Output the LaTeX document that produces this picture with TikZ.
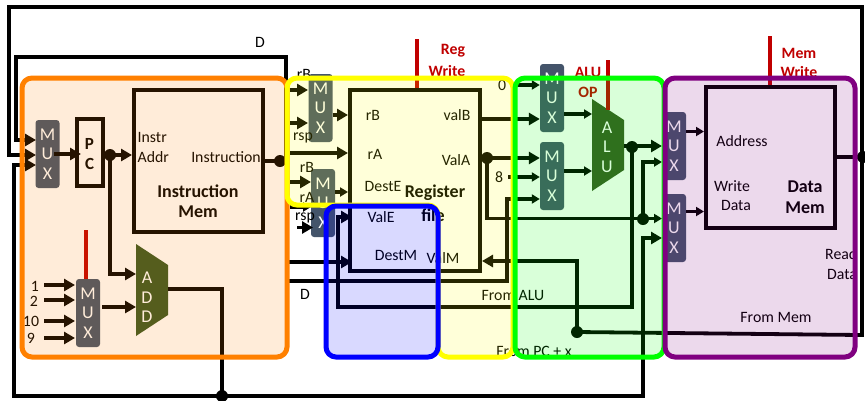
\documentclass[tikz,border=0pt]{standalone}
\usepackage{fontspec}
\setmainfont{Carlito}
\usetikzlibrary{arrows.meta}
\definecolor{muxblue}{HTML}{44546A}
\definecolor{adgreen}{HTML}{385723}
\definecolor{ctlred}{HTML}{C00000}
\definecolor{ovorange}{HTML}{FF8000}
\definecolor{ovyellow}{HTML}{FFFF00}
\definecolor{ovgreen}{HTML}{00FF00}
\definecolor{ovblue}{HTML}{0000FF}
\definecolor{ovpurple}{HTML}{800080}
\tikzset{
  wire/.style={draw=black,line width=3.8pt},
  arr/.style={wire,-{Triangle[length=11pt,width=12pt]}},
  arrs/.style={wire,-{Triangle[length=8pt,width=9pt]}},
  ctl/.style={draw=ctlred,line width=4pt},
  blockbox/.style={draw=black,line width=4pt,fill=none,inner sep=0pt},
  mux/.style={rectangle,rounded corners=3pt,fill=muxblue,text=white,inner sep=0pt,
    minimum width=24pt,minimum height=68pt,align=center,font=\fontsize{18}{19.5}\selectfont},
  junction/.style={circle,fill=black,inner sep=0pt,minimum size=12pt},
  txt/.style={inner sep=0pt,text=black,font=\fontsize{15.8}{18}\selectfont},
  txtb/.style={inner sep=0pt,text=black,font=\fontsize{18}{21}\selectfont\bfseries},
  redtxt/.style={inner sep=0pt,text=ctlred,font=\fontsize{15.8}{18}\selectfont\bfseries},
  shapetxt/.style={inner sep=0pt,text=white,align=center,font=\fontsize{18}{19.5}\selectfont},
  ovl/.style={line width=5pt,rounded corners=10pt,fill opacity=.15,draw opacity=1}
}
\begin{document}
\begin{tikzpicture}[x=1pt,y=-1pt]
\useasboundingbox (0,0) rectangle (865,400);
\fill[white] (0,0) rectangle (865,400);
% ---- blocks
\node[mux] (muxpc) at (47.5,154) {M\\U\\X};
\node[blockbox,minimum width=26pt,minimum height=67pt] (pc) at (90,152.5) {};
\node[inner sep=0pt,align=center,text=black,font=\fontsize{17}{20}\selectfont\bfseries] (pclab) at (89.5,154) {P\\C};
\node[blockbox,minimum width=129pt,minimum height=142pt] (imem) at (198.5,161) {};
\node[mux] (muxadd) at (88,313) {M\\U\\X};
\fill[adgreen] (136,244) -- (168,265) -- (168,315) -- (136,336) -- cycle;
\node[shapetxt] (addlab) at (147,297.5) {A\\D\\D};
\node[mux] (muxb) at (320.5,108) {M\\U\\X};
\node[mux] (muxc) at (323,203) {M\\U\\X};
\node[blockbox,minimum width=130pt,minimum height=181pt] (reg) at (415,180.5) {};
\node[mux] (muxd) at (552,98) {M\\U\\X};
\node[mux] (muxe) at (552,176) {M\\U\\X};
\fill[adgreen] (592,99) -- (624,120) -- (624,170) -- (592,191) -- cycle;
\node[shapetxt] (alulab) at (607,147) {A\\L\\U};
\node[mux] (muxf) at (674,146) {M\\U\\X};
\node[mux] (muxg) at (674,228) {M\\U\\X};
\node[blockbox,minimum width=129pt,minimum height=141pt] (dmem) at (770.5,157.5) {};
% ---- junctions
\node[junction] (jpc) at (110,155) {};
\node[junction] (jinst) at (280,161) {};
\node[junction] (jvala) at (487,158) {};
\node[junction] (jalu) at (632,147) {};
\node[junction] (jfwd) at (643,219) {};
\node[junction] (jmem) at (577,332) {};
\node[junction] (jadd) at (222,396) {};
\node[junction] (jout) at (863,157) {};
% ---- free ends
\coordinate (c1) at (44,285); \coordinate (c2) at (44,300);
\coordinate (c3) at (44,321); \coordinate (c4) at (44,338);
\coordinate (r1) at (290,90); \coordinate (r2) at (290,123);
\coordinate (r3) at (290,153); \coordinate (r4) at (290,182);
\coordinate (r5) at (290,207); \coordinate (r6) at (297,227.5);
\coordinate (r7) at (287,262); \coordinate (r8) at (287,281);
\coordinate (z0) at (516,85); \coordinate (z8) at (508,177);
% ---- wires
\draw[arr] (jout.center) -- (862,157) -- (862,7) -- (9,7) -- (9,155) -- (36,155);
\draw[wire] (862,157) -- (862,335) -- (860,335) -- (jmem.center);
\draw[arr] (jinst.center) -- (286,161) -- (286,57) -- (16,57) -- (16,140) -- (36,140);
\draw[arr] (jadd.center) -- (14,396) -- (14,165) -- (36,165);
\draw[arr] (jadd.center) -- (643,396) -- (643,238) -- (662,238);
\draw[arr] (54,154) -- (81,154);
\draw[wire] (pc.east |- jpc) -- (jpc.center);
\draw[arr] (jpc.center) -- (imem.west |- jpc);
\draw[arr] (jpc.center) -- (110,274) -- (136,274);
\draw[wire] (imem.east |- jinst) -- (jinst.center);
\draw[wire] (168,289) -- (222,289) -- (jadd.center);
\draw[arr] (c1) -- (75,285);
\draw[arr] (c2) -- (75,300);
\draw[arr] (c3) -- (75,321);
\draw[arr] (c4) -- (75,338);
\draw[arr] (102,307) -- (136,307);
\draw[ctl] (86,230) -- (86,279);
\draw[arr] (r1) -- (308,90);
\draw[arr] (r2) -- (308,123);
\draw[arr] (r3) -- (reg.west |- r3);
\draw[arr] (r4) -- (311,182);
\draw[arrs] (r5) -- (311,207);
\draw[arr] (r6) -- (313,227.5);
\draw[arr] (muxb.east |- 0,115) -- (reg.west |- 0,115);
\draw[arrs] (muxc.east |- 0,192) -- (reg.west |- 0,192);
\draw[arr] (r7) -- (352,262);
\draw[wire] (reg.east |- jvala) -- (jvala.center);
\draw[arr] (reg.east |- 0,119) -- (muxd.west |- 0,119);
\draw[arr] (jvala.center) -- (muxe.west |- jvala);
\draw[arrs] (jvala.center) -- (487,218.5) -- (662,218.5);
\draw[arrs] (jfwd.center) -- (643,162) -- (662,162);
\draw[arrs] (z0) -- (muxd.west |- z0);
\draw[arrs] (z8) -- (muxe.west |- z8);
\draw[arrs] (r8) -- (507,281) -- (507,199) -- (muxe.west |- 0,199);
\draw[arrs] (muxd.east |- 0,114) -- (592,114);
\draw[arrs] (muxe.east |- 0,171) -- (592,171);
\draw[arr] (624,146) -- (662,146);
\draw[wire] (jalu.center) -- (632,307) -- (336,307);
\draw[wire] (338,309) -- (338,217);
\draw[arr] (336.1,217) -- (352,217);
\draw[arr] (jmem.center) -- (577,261) -- (reg.east |- 0,261);
\draw[arrs] (muxf.east |- 0,131.5) -- (dmem.west |- 0,131.5);
\draw[arrs] (muxg.east |- 0,211.5) -- (dmem.west |- 0,211.5);
\draw[wire] (dmem.east |- jout) -- (jout.center);
\draw[ctl] (417,39) -- (reg.north -| 417,0);
\draw[ctl] (608,60) -- (608,110);
\draw[ctl] (770,36) -- (dmem.north -| 770,0);
% ---- labels
\node[txt] (ld1) at (260,42) {D};
\node[txt,anchor=west] (linstr) at (137.5,137) {Instr};
\node[txt,anchor=west] (laddr) at (137.5,157) {Addr};
\node[txt] (linst) at (226,157) {Instruction};
\node[txtb] (limem1) at (198,191) {Instruction};
\node[txtb] (limem2) at (198,212) {Mem};
\node[txt] (n1) at (35,286) {1};
\node[txt] (n2) at (34,301) {2};
\node[txt] (n10) at (31,321) {10};
\node[txt] (n9) at (31,338) {9};
\node[txt] (lrb1) at (304,74) {rB};
\node[txt] (lrsp1) at (303,138) {rsp};
\node[txt] (lrb2) at (307,167) {rB};
\node[txt] (lra2) at (307,197) {rA};
\node[txt] (lrsp2) at (305,218) {rsp};
\node[txt] (lrb) at (373,115) {rB};
\node[txt] (lra) at (375,154) {rA};
\node[txt] (ldeste) at (383,186) {DestE};
\node[txt] (lvalb) at (457,115) {valB};
\node[txt] (lvala) at (456,160) {ValA};
\node[txtb] (lreg1) at (435,193) {Register};
\node[txtb] (lreg2) at (433,215) {file};
\node[txt] (lvale) at (381,217) {ValE};
\node[txt] (ldestm) at (396,255) {DestM};
\node[txt] (lvalm) at (443,258) {ValM};
\node[txt] (ld2) at (305,294) {D};
\node[txt] (lfalu) at (513,295) {From ALU};
\node[txt] (lfpc) at (534,351) {From PC + x};
\node[txt] (l0) at (502,85) {0};
\node[txt] (l8) at (499,177) {8};
\node[txt] (laddrs) at (742,141.5) {Address};
\node[txt] (lwr) at (732,186) {Write};
\node[txt] (ldat) at (736,205) {Data};
\node[txtb] (ldm1) at (805,187) {Data};
\node[txtb] (ldm2) at (805,208) {Mem};
\node[txt,anchor=west] (lread) at (825,254) {Read};
\node[txt,anchor=west] (lrdat) at (827,274) {Data};
\node[txt] (lfmem) at (776,317) {From Mem};
\node[redtxt] (lrw1) at (453,51) {Reg};
\node[redtxt] (lrw2) at (447,71) {Write};
\node[redtxt] (lalu) at (588,72) {ALU};
\node[redtxt] (lop) at (588,92) {OP};
\node[redtxt] (lmw1) at (799,53) {Mem};
\node[redtxt] (lmw2) at (799,72) {Write};
% ---- coloured stage overlays
\draw[ovl,draw=ovorange,fill=ovorange] (22,78) rectangle (287,357);
\draw[ovl,draw=ovyellow,fill=ovyellow] (287,78) -- (513,78) -- (513,357) -- (438,357) -- (438,205) -- (287,205) -- cycle;
\draw[ovl,draw=ovblue,fill=ovblue] (326,206) rectangle (438,357);
\draw[ovl,draw=ovgreen,fill=ovgreen] (515,78) rectangle (664,357);
\draw[ovl,draw=ovpurple,fill=ovpurple] (665,78) rectangle (855,357);
\end{tikzpicture}
\end{document}
